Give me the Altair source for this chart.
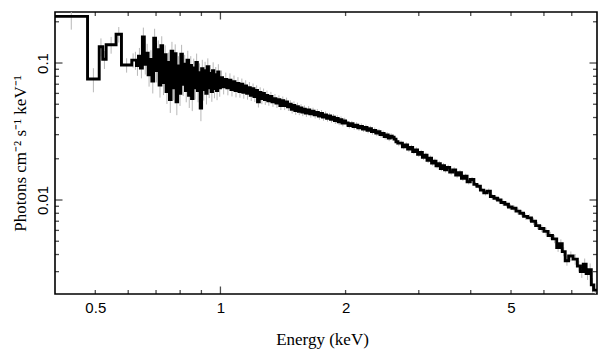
import altair as alt
import pandas as pd

# ---- spectrum bins (lower edges, keV), flux, relative error ----
edges_a = [0.400, 0.479, 0.511, 0.521, 0.531, 0.561, 0.578, 0.612]
flux_a = [0.219, 0.0764, 0.1315, 0.1064, 0.136, 0.162, 0.0967, 0.105]
err_a = [0.2, 0.2, 0.15, 0.15, 0.14, 0.13, 0.12, 0.12]

edges_b = [0.621, 0.628, 0.635, 0.642, 0.649, 0.656, 0.663, 0.670, 0.677, 0.684,
           0.691, 0.698, 0.705, 0.712, 0.719, 0.726, 0.733, 0.740, 0.747, 0.754,
           0.761, 0.768, 0.775, 0.782, 0.789, 0.796, 0.803, 0.810, 0.817, 0.824,
           0.831, 0.838, 0.845, 0.852, 0.859, 0.866, 0.873, 0.880, 0.887, 0.894,
           0.901, 0.908, 0.915, 0.922, 0.929, 0.936, 0.943, 0.950, 0.957, 0.964,
           0.971, 0.978, 0.985, 0.992]
flux_b = [0.105, 0.096, 0.112, 0.092, 0.155, 0.098, 0.118, 0.082, 0.106, 0.074,
          0.152, 0.088, 0.125, 0.069, 0.134, 0.072, 0.115, 0.062, 0.101, 0.054,
          0.122, 0.066, 0.117, 0.052, 0.095, 0.060, 0.116, 0.070, 0.098, 0.063,
          0.105, 0.058, 0.096, 0.055, 0.092, 0.066, 0.101, 0.063, 0.085, 0.047,
          0.091, 0.064, 0.088, 0.060, 0.094, 0.066, 0.084, 0.062, 0.088, 0.065,
          0.082, 0.063, 0.086, 0.066]
err_b = [0.15, 0.16, 0.15, 0.16, 0.17, 0.16, 0.17, 0.18, 0.17, 0.19,
         0.17, 0.18, 0.17, 0.19, 0.17, 0.19, 0.17, 0.19, 0.18, 0.2,
         0.17, 0.19, 0.17, 0.2, 0.18, 0.19, 0.17, 0.18, 0.17, 0.18,
         0.17, 0.19, 0.17, 0.19, 0.17, 0.18, 0.16, 0.18, 0.17, 0.2,
         0.16, 0.17, 0.16, 0.17, 0.15, 0.16, 0.15, 0.16, 0.15, 0.15,
         0.14, 0.15, 0.14, 0.14]

edges_c = [1.000, 1.012, 1.024, 1.036, 1.048, 1.060, 1.072, 1.084, 1.096, 1.108,
           1.120, 1.132, 1.144, 1.156, 1.168, 1.180, 1.192, 1.204, 1.216, 1.228,
           1.240, 1.252, 1.264, 1.276, 1.288,
           1.300, 1.315, 1.330, 1.345, 1.360, 1.375, 1.390, 1.405, 1.420, 1.435,
           1.450, 1.465, 1.480, 1.495, 1.510, 1.525, 1.540, 1.555, 1.570, 1.585,
           1.600, 1.620, 1.640, 1.660, 1.680, 1.700, 1.720, 1.740, 1.760, 1.780,
           1.800, 1.820, 1.840, 1.860, 1.880, 1.900, 1.920, 1.940, 1.960, 1.980]
flux_c = [0.078, 0.067, 0.076, 0.066, 0.075, 0.064, 0.073, 0.063, 0.071, 0.062,
          0.070, 0.061, 0.068, 0.060, 0.066, 0.058, 0.065, 0.057, 0.063, 0.052,
          0.061, 0.055, 0.060, 0.054, 0.058,
          0.053, 0.057, 0.052, 0.055, 0.051, 0.054, 0.049, 0.053, 0.049, 0.052,
          0.048, 0.050, 0.046, 0.049, 0.045, 0.048, 0.0445, 0.047, 0.0438, 0.046,
          0.0432, 0.0455, 0.0425, 0.0445, 0.0418, 0.0436, 0.0410, 0.0428, 0.0403, 0.0418,
          0.0395, 0.0410, 0.0388, 0.0402, 0.0380, 0.0394, 0.0372, 0.0386, 0.0365, 0.0378]
err_c = [0.13, 0.12, 0.12, 0.12, 0.12, 0.11, 0.11, 0.11, 0.11, 0.1,
         0.1, 0.1, 0.1, 0.1, 0.1, 0.09, 0.09, 0.09, 0.09, 0.09,
         0.09, 0.09, 0.085, 0.085, 0.085,
         0.08, 0.08, 0.08, 0.08, 0.08, 0.075, 0.075, 0.075, 0.075, 0.075,
         0.07, 0.07, 0.07, 0.07, 0.07, 0.07, 0.065, 0.065, 0.065, 0.065,
         0.065, 0.065, 0.06, 0.06, 0.06, 0.06, 0.06, 0.06, 0.06, 0.06,
         0.055, 0.055, 0.055, 0.055, 0.055, 0.055, 0.055, 0.055, 0.055, 0.055]

edges_d = [2.000, 2.028, 2.056, 2.084, 2.112, 2.140, 2.168, 2.196, 2.224, 2.252,
           2.280, 2.308, 2.336, 2.364, 2.392, 2.420, 2.448, 2.476, 2.504, 2.532,
           2.560, 2.588, 2.616, 2.644, 2.672,
           2.700, 2.740, 2.780, 2.820, 2.860, 2.900, 2.940, 2.980, 3.020, 3.060,
           3.100, 3.140, 3.180, 3.220, 3.260, 3.300, 3.340, 3.380, 3.420, 3.460,
           3.500, 3.560, 3.620, 3.680, 3.740, 3.800, 3.860, 3.920, 3.990]
flux_d = [0.0365, 0.0350, 0.0360, 0.0343, 0.0352, 0.0337, 0.0345, 0.0330, 0.0338, 0.0323,
          0.0331, 0.0316, 0.0322, 0.0308, 0.0315, 0.0300, 0.0306, 0.0291, 0.0298, 0.0283,
          0.0292, 0.0287, 0.0278, 0.0266, 0.0260,
          0.0260, 0.0245, 0.0252, 0.0235, 0.0242, 0.0226, 0.0232, 0.0216, 0.0222, 0.0205,
          0.0212, 0.0195, 0.0202, 0.0186, 0.0192, 0.0178, 0.0184, 0.0170, 0.0178, 0.0166,
          0.0173, 0.0160, 0.0166, 0.0152, 0.0158, 0.0144, 0.0149, 0.0136, 0.0141]
err_d = [0.05, 0.05, 0.05, 0.05, 0.05, 0.05, 0.05, 0.05, 0.05, 0.05,
         0.05, 0.05, 0.05, 0.05, 0.05, 0.05, 0.05, 0.05, 0.05, 0.05,
         0.05, 0.05, 0.05, 0.05, 0.05,
         0.045, 0.045, 0.045, 0.045, 0.045, 0.045, 0.045, 0.045, 0.045, 0.045,
         0.045, 0.045, 0.045, 0.045, 0.045, 0.045, 0.045, 0.045, 0.045, 0.045,
         0.045, 0.045, 0.045, 0.045, 0.045, 0.045, 0.045, 0.045, 0.045]

edges_e = [4.07, 4.14, 4.22, 4.30, 4.38, 4.46, 4.55, 4.64, 4.73, 4.83,
           4.93, 5.03, 5.14, 5.25, 5.36, 5.48, 5.60, 5.73, 5.86, 6.00,
           6.14, 6.29, 6.44, 6.54, 6.64, 6.75, 6.88, 7.05, 7.22, 7.34,
           7.46, 7.58, 7.70, 7.80, 7.90]
flux_e = [0.0130, 0.0126, 0.0118, 0.0113, 0.0116, 0.0106, 0.0103, 0.0100, 0.0096, 0.0093,
          0.0089, 0.0087, 0.0083, 0.0080, 0.0076, 0.0074, 0.0070, 0.0065, 0.0062, 0.0059,
          0.0055, 0.0052, 0.0045, 0.0048, 0.0042, 0.0036, 0.0039, 0.0037, 0.0033, 0.0030,
          0.0034, 0.0029, 0.0031, 0.0024, 0.0022]
err_e = [0.04, 0.04, 0.04, 0.045, 0.045, 0.045, 0.045, 0.05, 0.05, 0.05,
         0.05, 0.05, 0.055, 0.055, 0.055, 0.06, 0.06, 0.06, 0.06, 0.065,
         0.065, 0.07, 0.07, 0.075, 0.075, 0.08, 0.08, 0.09, 0.09, 0.1,
         0.1, 0.1, 0.11, 0.12, 0.12]
last_edge = 8.05

# ---- axis tick values ----
x_labels = [0.5, 1, 2, 5]
x_major = [1]
x_minor = [0.5, 0.6, 0.7, 0.8, 0.9, 2, 3, 4, 5, 6, 7]
y_labels = [0.01, 0.1]
y_major = [0.1, 0.01]
y_minor = [0.2, 0.09, 0.08, 0.07, 0.06, 0.05, 0.04, 0.03, 0.02,
           0.009, 0.008, 0.007, 0.006, 0.005, 0.004, 0.003]

e_lo = edges_a + edges_b + edges_c + edges_d + edges_e
flux = flux_a + flux_b + flux_c + flux_d + flux_e
rel_err = err_a + err_b + err_c + err_d + err_e
edges = e_lo + [last_edge]

step_df = pd.DataFrame({"e": edges, "f": flux + [flux[-1]]})
centers = [(lo * hi) ** 0.5 for lo, hi in zip(edges[:-1], edges[1:])]
err_df = pd.DataFrame({
    "e": centers,
    "lo": [f * (1 - r) for f, r in zip(flux, rel_err)],
    "hi": [f * (1 + r) for f, r in zip(flux, rel_err)],
})
xt_df = pd.DataFrame({"v": x_major + x_minor, "s": [15] * len(x_major) + [8] * len(x_minor)})
yt_df = pd.DataFrame({"v": y_major + y_minor, "s": [15] * len(y_major) + [8] * len(y_minor)})

W, H = 542, 282
xs = alt.Scale(type="log", domain=[0.4, 8.05], nice=False)
ys = alt.Scale(type="log", domain=[0.00206, 0.2357], nice=False)

xaxis = alt.Axis(values=x_labels, format="~g", title="Energy (keV)", ticks=False, tickSize=0,
                 domain=False, grid=False, labelFont="Liberation Sans", labelFontSize=15,
                 labelColor="black", labelPadding=18.5, labelBaseline="alphabetic",
                 labelFlush=False, labelOverlap=False,
                 titleFont="Liberation Serif", titleFontSize=17, titleFontWeight="normal",
                 titleColor="black", titleY=50, titleX=267, titleAlign="center",
                 titleBaseline="alphabetic")
yaxis = alt.Axis(values=y_labels, format="~g", title="Photons cm⁻² s⁻¹ keV⁻¹", ticks=False,
                 tickSize=0, domain=False, grid=False, labelFont="Liberation Sans",
                 labelFontSize=15, labelColor="black", labelAngle=270, labelAlign="center",
                 labelBaseline="alphabetic", labelPadding=8, labelFlush=False, labelOverlap=False,
                 titleFont="Liberation Serif", titleFontSize=17, titleFontWeight="normal",
                 titleColor="black", titleAngle=270, titleAlign="center",
                 titleBaseline="alphabetic", titleX=-30, titleY=141)

X = lambda f: alt.X(f, scale=xs, axis=xaxis)
Y = lambda f: alt.Y(f, scale=ys, axis=yaxis)

errbars = alt.Chart(err_df).mark_rule(color="#b8b8b8", strokeWidth=1, clip=True).encode(
    x=X("e:Q"), y=Y("lo:Q"), y2="hi:Q")
line = alt.Chart(step_df).mark_line(interpolate="step-after", color="black",
                                     strokeWidth=2.9, clip=True).encode(
    x=X("e:Q"), y=Y("f:Q"))
ticks_bottom = alt.Chart(xt_df).mark_tick(orient="vertical", color="black", thickness=1.3,
                                          clip=True).encode(
    x=X("v:Q"), y=alt.value(H), size=alt.Size("s:Q", scale=None, legend=None))
ticks_top = alt.Chart(xt_df).mark_tick(orient="vertical", color="black", thickness=1.3,
                                       clip=True).encode(
    x=X("v:Q"), y=alt.value(0), size=alt.Size("s:Q", scale=None, legend=None))
ticks_left = alt.Chart(yt_df).mark_tick(orient="horizontal", color="black", thickness=1.3,
                                        clip=True).encode(
    y=Y("v:Q"), x=alt.value(0), size=alt.Size("s:Q", scale=None, legend=None))
ticks_right = alt.Chart(yt_df).mark_tick(orient="horizontal", color="black", thickness=1.3,
                                         clip=True).encode(
    y=Y("v:Q"), x=alt.value(W), size=alt.Size("s:Q", scale=None, legend=None))

chart = alt.layer(errbars, line, ticks_bottom, ticks_top, ticks_left, ticks_right).properties(
    width=W, height=H,
    padding={"left": 55, "top": 12, "right": 12, "bottom": 63},
    autosize=alt.AutoSizeParams(type="none"),
    background="white",
).configure_view(stroke="black", strokeWidth=1.6)

chart.save("out.html", embed_options={"renderer": "svg", "actions": False})
